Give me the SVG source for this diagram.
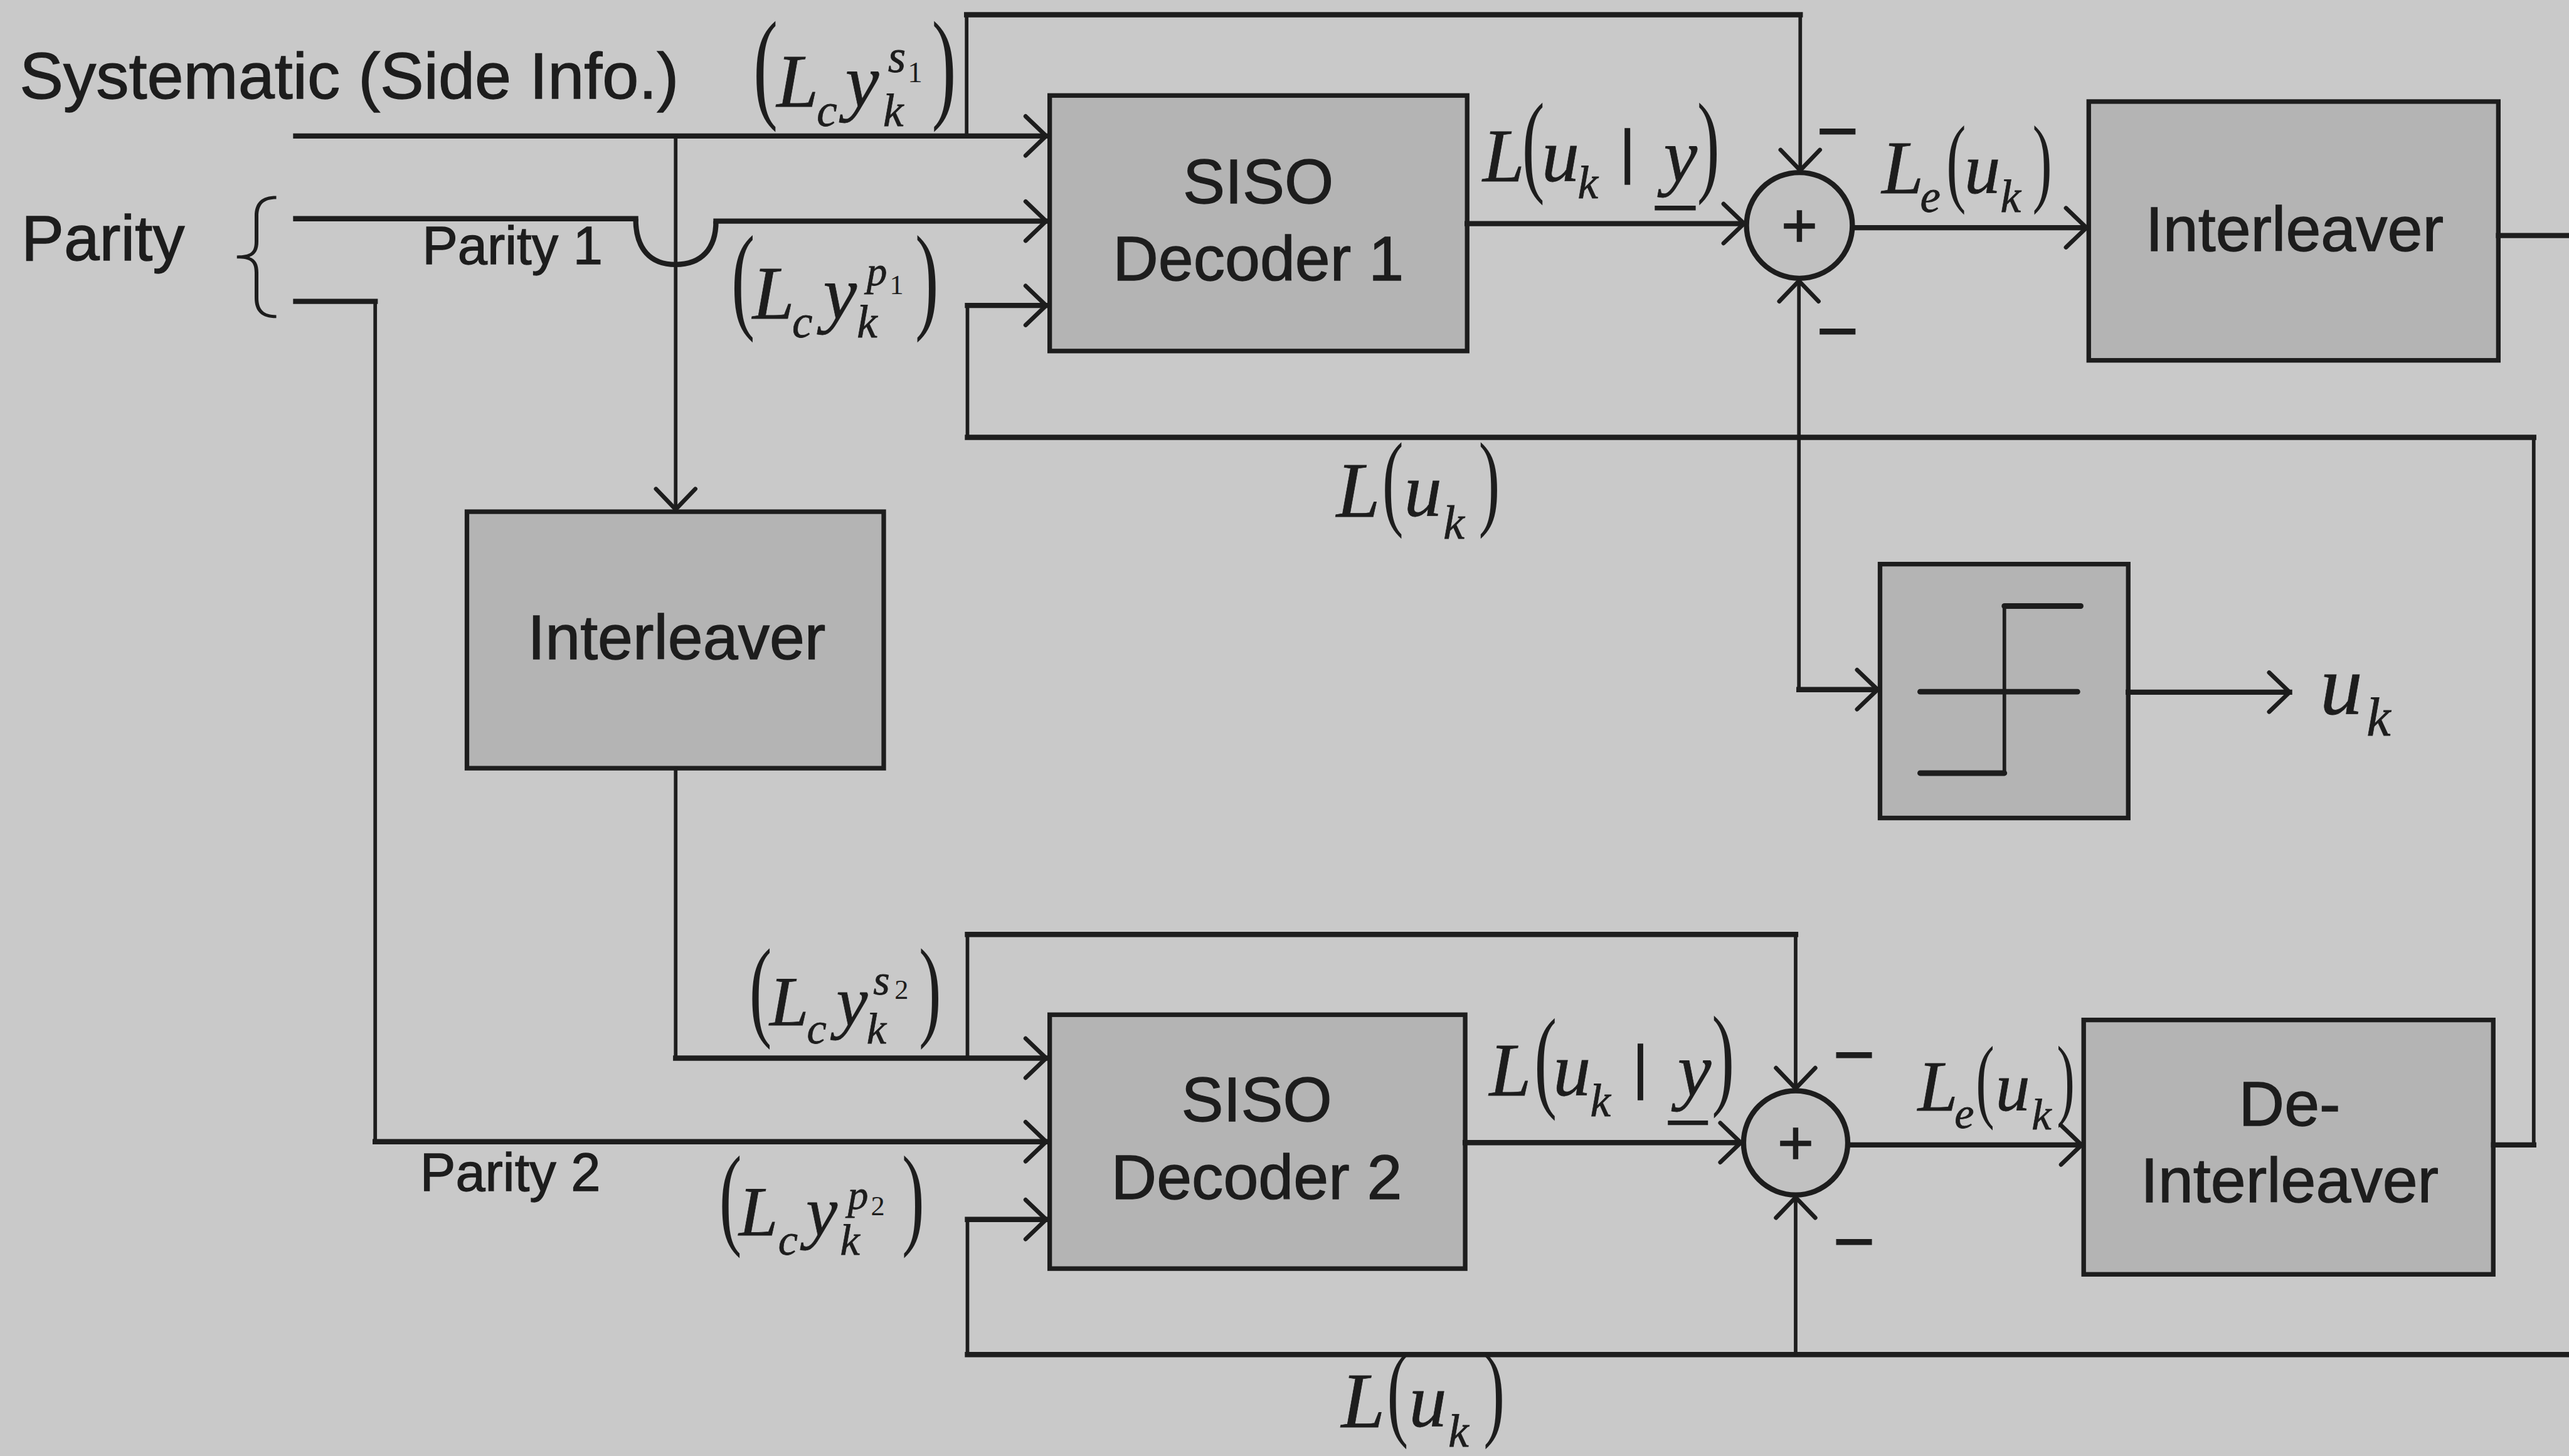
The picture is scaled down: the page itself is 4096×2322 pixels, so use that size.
<svg xmlns="http://www.w3.org/2000/svg" width="4096" height="2322" viewBox="0 0 4096 2322">
<defs>
<style>
.bg{fill:#c9c9c9}
.box{fill:#b4b4b4;stroke:#1d1d1d;stroke-width:2.8}
.sum{fill:#c1c1c1;stroke:#1d1d1d;stroke-width:3.2}
.h{fill:none;stroke:#1d1d1d;stroke-width:3.2;stroke-linecap:square}
.v{fill:none;stroke:#1d1d1d;stroke-width:2.2;stroke-linecap:square}
.stp{fill:none;stroke:#1d1d1d;stroke-width:3.4;stroke-linecap:round}
.stv{fill:none;stroke:#1d1d1d;stroke-width:2.2}
.sans{font-family:"Liberation Sans",Arial,sans-serif;fill:#1d1d1d;stroke:#1d1d1d;stroke-width:0.5}
.lbl{font-size:38.5px;text-anchor:middle}
.mi{font-family:"Liberation Serif","Times New Roman",serif;font-style:italic;fill:#1d1d1d;stroke:#1d1d1d;stroke-width:0.3}
.mr{font-family:"Liberation Serif","Times New Roman",serif;fill:#1d1d1d}
.brace{font-family:Inter,"Noto Sans","Open Sans",sans-serif;font-weight:100;fill:#1d1d1d}
</style>
<marker id="arr" markerUnits="userSpaceOnUse" markerWidth="30" markerHeight="30" refX="15" refY="15" orient="auto" overflow="visible">
<path d="M2.5,3 L15,15 L2.5,27" fill="none" stroke="#1d1d1d" stroke-width="2.6" stroke-linecap="round" stroke-linejoin="round"/>
</marker>
</defs>
<rect class="bg" x="0" y="0" width="4096" height="2322"/>
<g transform="scale(2.6122)">

<g id="nodes">
<g id="n-siso1">
<rect class="box" x="640.7" y="58.3" width="254.8" height="156"/>
<text class="sans lbl" x="768" y="124">SISO</text>
<text class="sans lbl" x="768" y="171">Decoder 1</text>
</g>
<g id="n-siso2">
<rect class="box" x="640.7" y="619.5" width="253.6" height="155"/>
<text class="sans lbl" x="767" y="684.6">SISO</text>
<text class="sans lbl" x="767" y="731.9">Decoder 2</text>
</g>
<g id="n-interleaver1">
<rect class="box" x="1274.9" y="62" width="250" height="158"/>
<text class="sans lbl" x="1400.5" y="153.2">Interleaver</text>
</g>
<g id="n-interleaver0">
<rect class="box" x="285" y="312.4" width="254.4" height="156.6"/>
<text class="sans lbl" x="413" y="402.4">Interleaver</text>
</g>
<g id="n-deinterleaver">
<rect class="box" x="1271.8" y="622.7" width="250" height="155.3"/>
<text class="sans lbl" x="1397.5" y="687">De-</text>
<text class="sans lbl" x="1397.5" y="734">Interleaver</text>
</g>
<g id="n-slicer">
<rect class="box" x="1147.5" y="344.4" width="151.5" height="155"/>
<path class="stp" d="M1172,422.3 H1268"/>
<path class="stp" d="M1223.4,370 H1270"/>
<path class="stp" d="M1172,472 H1223.4"/>
<path class="stv" d="M1223.4,370 V472"/>
</g>
<g id="n-sum1">
<circle class="sum" cx="1098.3" cy="137.6" r="32.3"/>
<text class="sans" font-size="38" text-anchor="middle" x="1098.3" y="151">+</text>
</g>
<g id="n-sum2">
<circle class="sum" cx="1096" cy="697.7" r="31.8"/>
<text class="sans" font-size="38" text-anchor="middle" x="1096" y="711">+</text>
</g>
</g>

<g id="connectors">
<path class="h" d="M180.5,83 H638.5" marker-end="url(#arr)"/>
<path class="v" d="M412.4,83 V311" marker-end="url(#arr)"/>
<path class="v" d="M590,83 V9"/>
<path class="h" d="M590,9 H1098.8"/>
<path class="v" d="M1098.8,9 V104" marker-end="url(#arr)"/>
<path class="h" d="M180.5,133.5 H388"/>
<path class="h" d="M388,133.5 C388,152 397,161.5 412.4,161.5 C428,161.5 437,152 437,135" style="stroke-linecap:butt"/>
<path class="h" d="M437,135 H638.5" marker-end="url(#arr)"/>
<path class="h" d="M180.5,184 H229"/>
<path class="v" d="M229,184 V697"/>
<path class="h" d="M229,697 H638.5" marker-end="url(#arr)"/>
<path class="v" d="M412.4,469 V646"/>
<path class="h" d="M412.4,646 H638.5" marker-end="url(#arr)"/>
<path class="v" d="M590.5,646 V570.5"/>
<path class="h" d="M590.5,570.5 H1096"/>
<path class="v" d="M1096,570.5 V664.5" marker-end="url(#arr)"/>
<path class="h" d="M895.5,136.5 H1064.5" marker-end="url(#arr)"/>
<path class="h" d="M1131,139 H1273.5" marker-end="url(#arr)"/>
<path class="h" d="M1525,143.8 H1572"/>
<path class="v" d="M1098,421 V171.5" marker-end="url(#arr)"/>
<path class="h" d="M1098,421 H1146" marker-end="url(#arr)"/>
<path class="h" d="M1299,422.6 H1397.5" marker-end="url(#arr)"/>
<path class="h" d="M1522,699 H1546.5"/>
<path class="v" d="M1546.5,699 V267"/>
<path class="h" d="M1546.5,267 H590.5"/>
<path class="v" d="M590.5,267 V186.5"/>
<path class="h" d="M590.5,186.5 H638.5" marker-end="url(#arr)"/>
<path class="h" d="M1572,827 H590.5"/>
<path class="v" d="M590.5,827 V744.5"/>
<path class="h" d="M590.5,744.5 H638.5" marker-end="url(#arr)"/>
<path class="v" d="M1096,827 V731" marker-end="url(#arr)"/>
<path class="h" d="M894.3,697.6 H1062.5" marker-end="url(#arr)"/>
<path class="h" d="M1128,699 H1270.5" marker-end="url(#arr)"/>
</g>

<g id="labels">
<text class="sans" font-size="40" x="12" y="60">Systematic (Side Info.)</text>
<text class="sans" font-size="39" x="13" y="159">Parity</text>
<text class="brace" font-size="82" transform="translate(136,183) scale(1.25,1)">{</text>
<text class="sans" font-size="32.5" x="257.7" y="161">Parity 1</text>
<text class="sans" font-size="32.5" x="256.4" y="727">Parity 2</text>

<text class="sans" font-size="44" text-anchor="middle" x="1121.5" y="95">−</text>
<text class="sans" font-size="44" text-anchor="middle" x="1121.5" y="217">−</text>
<text class="sans" font-size="44" text-anchor="middle" x="1131.5" y="659">−</text>
<text class="sans" font-size="44" text-anchor="middle" x="1131.5" y="773">−</text>

<g id="lbl-s1">
<text class="mr" font-size="75" transform="translate(459.8,64.7) scale(0.6,1)">(</text>
<text class="mi" font-size="46" x="474" y="65">L</text>
<text class="mi" font-size="28" x="498.5" y="77">c</text>
<text class="mi" font-size="46" x="516" y="65">y</text>
<text class="mi" font-size="28" x="539" y="77">k</text>
<text class="mi" font-size="28" x="542" y="44">s</text>
<text class="mr" font-size="18" x="554" y="50">1</text>
<text class="mr" font-size="75" transform="translate(568.7,64.7) scale(0.6,1)">)</text>
</g>
<g id="lbl-p1">
<text class="mr" font-size="72" transform="translate(446.4,193.6) scale(0.6,1)">(</text>
<text class="mi" font-size="46" x="459.3" y="194.3">L</text>
<text class="mi" font-size="28" x="483.5" y="206">c</text>
<text class="mi" font-size="46" x="502.5" y="194.3">y</text>
<text class="mi" font-size="28" x="523" y="206">k</text>
<text class="mi" font-size="25" x="529" y="174">p</text>
<text class="mr" font-size="17" x="543" y="179.5">1</text>
<text class="mr" font-size="72" transform="translate(558.5,193.6) scale(0.6,1)">)</text>
</g>
<g id="lbl-s2">
<text class="mr" font-size="68.5" transform="translate(457.4,626.3) scale(0.6,1)">(</text>
<text class="mi" font-size="43" x="469.7" y="626">L</text>
<text class="mi" font-size="27" x="492.5" y="637">c</text>
<text class="mi" font-size="43" x="510.5" y="626">y</text>
<text class="mi" font-size="27" x="529" y="637">k</text>
<text class="mi" font-size="26" x="533" y="607">s</text>
<text class="mr" font-size="17" x="546" y="610">2</text>
<text class="mr" font-size="68.5" transform="translate(560.8,626.3) scale(0.6,1)">)</text>
</g>
<g id="lbl-p2">
<text class="mr" font-size="68.7" transform="translate(439,753.4) scale(0.6,1)">(</text>
<text class="mi" font-size="43" x="451" y="754">L</text>
<text class="mi" font-size="27" x="475" y="766">c</text>
<text class="mi" font-size="43" x="492" y="754">y</text>
<text class="mi" font-size="27" x="512.8" y="766">k</text>
<text class="mi" font-size="25" x="517.5" y="738">p</text>
<text class="mr" font-size="17" x="531.5" y="742">2</text>
<text class="mr" font-size="68.7" transform="translate(550.5,753.4) scale(0.6,1)">)</text>
</g>
<g id="lbl-luy1">
<text class="mi" font-size="46" x="905" y="110.7">L</text>
<text class="mr" font-size="69" transform="translate(929,110.8) scale(0.6,1)">(</text>
<text class="mi" font-size="46" x="941" y="110.7">u</text>
<text class="mi" font-size="28" x="963" y="121">k</text>
<text class="sans" font-size="36" x="988.6" y="105">|</text>
<text class="mi" font-size="46" x="1015.5" y="110.7">y</text>
<line x1="1010" y1="127" x2="1035" y2="127" stroke="#1d1d1d" stroke-width="2.8"/>
<text class="mr" font-size="69" transform="translate(1035.8,110.8) scale(0.6,1)">)</text>
</g>
<g id="lbl-le1">
<text class="mi" font-size="46" x="1148.6" y="118">L</text>
<text class="mi" font-size="28" x="1172" y="129.5">e</text>
<text class="mr" font-size="60" transform="translate(1188,118.1) scale(0.6,1)">(</text>
<text class="mi" font-size="44" x="1199" y="118">u</text>
<text class="mi" font-size="28" x="1221" y="129.5">k</text>
<text class="mr" font-size="60" transform="translate(1240.5,118.1) scale(0.6,1)">)</text>
</g>
<g id="lbl-lu1">
<text class="mi" font-size="48" x="815.7" y="315.4">L</text>
<text class="mr" font-size="65" transform="translate(843.6,314.9) scale(0.6,1)">(</text>
<text class="mi" font-size="46" x="857" y="315">u</text>
<text class="mi" font-size="29" x="881" y="329">k</text>
<text class="mr" font-size="65" transform="translate(902.5,314.9) scale(0.6,1)">)</text>
</g>
<g id="lbl-lu2" transform="translate(3,556)">
<text class="mi" font-size="48" x="815.7" y="315.4">L</text>
<text class="mr" font-size="65" transform="translate(843.6,314.9) scale(0.6,1)">(</text>
<text class="mi" font-size="46" x="857" y="315">u</text>
<text class="mi" font-size="28" x="881" y="327">k</text>
<text class="mr" font-size="65" transform="translate(902.5,314.9) scale(0.6,1)">)</text>
</g>
<g id="lbl-luy2">
<text class="mi" font-size="46" x="909" y="668.6">L</text>
<text class="mr" font-size="69" transform="translate(936.5,669.4) scale(0.6,1)">(</text>
<text class="mi" font-size="46" x="948" y="668.6">u</text>
<text class="mi" font-size="28" x="970.6" y="681.6">k</text>
<text class="sans" font-size="36" x="996.6" y="663.8">|</text>
<text class="mi" font-size="46" x="1024" y="668.6">y</text>
<line x1="1018" y1="685.5" x2="1042.5" y2="685.5" stroke="#1d1d1d" stroke-width="2.8"/>
<text class="mr" font-size="69" transform="translate(1044.8,668) scale(0.6,1)">)</text>
</g>
<g id="lbl-le2">
<text class="mi" font-size="44" x="1170.6" y="678">L</text>
<text class="mi" font-size="27" x="1193" y="688.7">e</text>
<text class="mr" font-size="56.7" transform="translate(1206,677.9) scale(0.6,1)">(</text>
<text class="mi" font-size="42" x="1218" y="678">u</text>
<text class="mi" font-size="27" x="1240" y="689.6">k</text>
<text class="mr" font-size="55" transform="translate(1255.4,677) scale(0.6,1)">)</text>
</g>
<g id="lbl-uk">
<text class="mi" font-size="52" x="1416" y="435.6">u</text>
<text class="mi" font-size="33" x="1444.5" y="449">k</text>
</g>
</g>
</g>
</svg>
